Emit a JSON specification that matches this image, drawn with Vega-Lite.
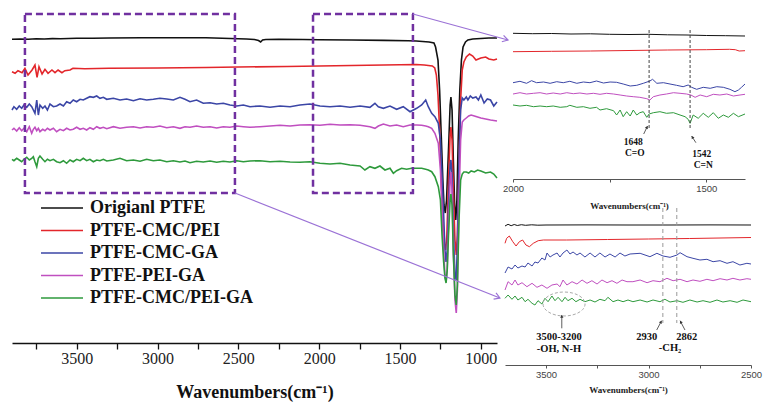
{
"$schema":"https://vega.github.io/schema/vega-lite/v6.json",
"width":763,"height":405,"autosize":"none","padding":0,"background":"white",
"config":{"view":{"stroke":null},"axis":{"grid":false}},
"datasets":{
"main":[
{"s":"a","w":3900,"v":310.7},{"s":"a","w":3850,"v":311},{"s":"a","w":3800,"v":310.8},{"s":"a","w":3750,"v":311.2},{"s":"a","w":3700,"v":311},{"s":"a","w":3650,"v":311.4},{"s":"a","w":3600,"v":311.3},{"s":"a","w":3500,"v":311.7},{"s":"a","w":3400,"v":311.8},{"s":"a","w":3300,"v":312},{"s":"a","w":3100,"v":312.2},{"s":"a","w":2900,"v":312.3},{"s":"a","w":2700,"v":312.3},{"s":"a","w":2550,"v":311.5},{"s":"a","w":2450,"v":311},{"s":"a","w":2400,"v":310.5},{"s":"a","w":2375,"v":309.5},{"s":"a","w":2362,"v":308},{"s":"a","w":2350,"v":310},{"s":"a","w":2330,"v":310.5},{"s":"a","w":2250,"v":310.7},{"s":"a","w":2100,"v":310.5},{"s":"a","w":2000,"v":310.3},{"s":"a","w":1800,"v":310},{"s":"a","w":1600,"v":309.6},{"s":"a","w":1450,"v":309.2},{"s":"a","w":1400,"v":309},{"s":"a","w":1320,"v":308},{"s":"a","w":1290,"v":307},{"s":"a","w":1280,"v":303},{"s":"a","w":1265,"v":290},{"s":"a","w":1255,"v":260},{"s":"a","w":1245,"v":215},{"s":"a","w":1235,"v":170},{"s":"a","w":1228,"v":145},{"s":"a","w":1220,"v":137},{"s":"a","w":1212,"v":150},{"s":"a","w":1200,"v":200},{"s":"a","w":1190,"v":245},{"s":"a","w":1185,"v":253},{"s":"a","w":1178,"v":240},{"s":"a","w":1170,"v":190},{"s":"a","w":1162,"v":145},{"s":"a","w":1155,"v":130},{"s":"a","w":1148,"v":150},{"s":"a","w":1140,"v":210},{"s":"a","w":1130,"v":260},{"s":"a","w":1120,"v":290},{"s":"a","w":1110,"v":303},{"s":"a","w":1095,"v":308},{"s":"a","w":1080,"v":310},{"s":"a","w":1050,"v":311},{"s":"a","w":1000,"v":311.5},{"s":"a","w":950,"v":312},{"s":"a","w":900,"v":312},
{"s":"b","w":3900,"v":278.3},{"s":"b","w":3881,"v":276.7},{"s":"b","w":3863,"v":279.3},{"s":"b","w":3838,"v":277.3},{"s":"b","w":3820,"v":281.7},{"s":"b","w":3801,"v":275},{"s":"b","w":3776,"v":280},{"s":"b","w":3758,"v":285},{"s":"b","w":3745,"v":272.7},{"s":"b","w":3733,"v":283.3},{"s":"b","w":3714,"v":276},{"s":"b","w":3696,"v":280.7},{"s":"b","w":3677,"v":276.7},{"s":"b","w":3653,"v":280},{"s":"b","w":3634,"v":277.3},{"s":"b","w":3615,"v":280},{"s":"b","w":3591,"v":277.3},{"s":"b","w":3573,"v":279.3},{"s":"b","w":3541,"v":280},{"s":"b","w":3523,"v":281.7},{"s":"b","w":3450,"v":281.3},{"s":"b","w":3300,"v":281.7},{"s":"b","w":3000,"v":282},{"s":"b","w":2700,"v":282.5},{"s":"b","w":2500,"v":283},{"s":"b","w":2200,"v":283.5},{"s":"b","w":2000,"v":284},{"s":"b","w":1800,"v":284.5},{"s":"b","w":1600,"v":285},{"s":"b","w":1400,"v":285.5},{"s":"b","w":1350,"v":285},{"s":"b","w":1300,"v":284},{"s":"b","w":1285,"v":282},{"s":"b","w":1275,"v":275},{"s":"b","w":1265,"v":255},{"s":"b","w":1255,"v":220},{"s":"b","w":1245,"v":170},{"s":"b","w":1235,"v":130},{"s":"b","w":1225,"v":105},{"s":"b","w":1218,"v":100},{"s":"b","w":1210,"v":115},{"s":"b","w":1200,"v":170},{"s":"b","w":1190,"v":215},{"s":"b","w":1185,"v":223},{"s":"b","w":1178,"v":210},{"s":"b","w":1170,"v":160},{"s":"b","w":1160,"v":110},{"s":"b","w":1152,"v":95},{"s":"b","w":1145,"v":115},{"s":"b","w":1135,"v":190},{"s":"b","w":1125,"v":250},{"s":"b","w":1115,"v":280},{"s":"b","w":1105,"v":288},{"s":"b","w":1090,"v":293},{"s":"b","w":1070,"v":296},{"s":"b","w":1050,"v":294},{"s":"b","w":1030,"v":290},{"s":"b","w":1000,"v":292},{"s":"b","w":970,"v":293},{"s":"b","w":950,"v":291},{"s":"b","w":920,"v":290},{"s":"b","w":900,"v":291},
{"s":"c","w":3900,"v":240},{"s":"c","w":3888,"v":243.3},{"s":"c","w":3871,"v":240.7},{"s":"c","w":3855,"v":244},{"s":"c","w":3840,"v":241.7},{"s":"c","w":3826,"v":245},{"s":"c","w":3809,"v":242.7},{"s":"c","w":3793,"v":246},{"s":"c","w":3778,"v":243.3},{"s":"c","w":3768,"v":240},{"s":"c","w":3758,"v":236.7},{"s":"c","w":3747,"v":250},{"s":"c","w":3737,"v":235},{"s":"c","w":3727,"v":245},{"s":"c","w":3710,"v":241.7},{"s":"c","w":3696,"v":244},{"s":"c","w":3681,"v":240},{"s":"c","w":3665,"v":246},{"s":"c","w":3644,"v":243.3},{"s":"c","w":3624,"v":244},{"s":"c","w":3603,"v":246},{"s":"c","w":3582,"v":244},{"s":"c","w":3562,"v":248.3},{"s":"c","w":3541,"v":246.7},{"s":"c","w":3521,"v":250},{"s":"c","w":3500,"v":248.3},{"s":"c","w":3479,"v":250.7},{"s":"c","w":3459,"v":250},{"s":"c","w":3438,"v":251.7},{"s":"c","w":3418,"v":253.3},{"s":"c","w":3397,"v":252.7},{"s":"c","w":3376,"v":254},{"s":"c","w":3356,"v":251.7},{"s":"c","w":3335,"v":252.7},{"s":"c","w":3314,"v":250.7},{"s":"c","w":3273,"v":251.7},{"s":"c","w":3232,"v":250},{"s":"c","w":3191,"v":251},{"s":"c","w":3149,"v":249.3},{"s":"c","w":3108,"v":251.3},{"s":"c","w":3067,"v":250},{"s":"c","w":3026,"v":250.7},{"s":"c","w":2985,"v":251.7},{"s":"c","w":2943,"v":251},{"s":"c","w":2902,"v":250},{"s":"c","w":2861,"v":252.7},{"s":"c","w":2830,"v":250.7},{"s":"c","w":2799,"v":248.3},{"s":"c","w":2758,"v":250},{"s":"c","w":2717,"v":246.7},{"s":"c","w":2675,"v":247.3},{"s":"c","w":2634,"v":246},{"s":"c","w":2593,"v":246.7},{"s":"c","w":2552,"v":245},{"s":"c","w":2510,"v":244},{"s":"c","w":2469,"v":245},{"s":"c","w":2428,"v":243.3},{"s":"c","w":2366,"v":244},{"s":"c","w":2304,"v":242.7},{"s":"c","w":2242,"v":244},{"s":"c","w":2180,"v":243.3},{"s":"c","w":2119,"v":245},{"s":"c","w":2057,"v":246},{"s":"c","w":1995,"v":244},{"s":"c","w":1933,"v":243.3},{"s":"c","w":1871,"v":244},{"s":"c","w":1809,"v":242.7},{"s":"c","w":1747,"v":244},{"s":"c","w":1686,"v":242.7},{"s":"c","w":1655,"v":246.7},{"s":"c","w":1634,"v":243.3},{"s":"c","w":1603,"v":241.7},{"s":"c","w":1562,"v":244},{"s":"c","w":1521,"v":240.7},{"s":"c","w":1480,"v":243.3},{"s":"c","w":1438,"v":238.3},{"s":"c","w":1397,"v":241.7},{"s":"c","w":1366,"v":245},{"s":"c","w":1341,"v":250},{"s":"c","w":1325,"v":243.3},{"s":"c","w":1304,"v":236.7},{"s":"c","w":1284,"v":233.3},{"s":"c","w":1263,"v":226.7},{"s":"c","w":1250,"v":210},{"s":"c","w":1240,"v":175},{"s":"c","w":1230,"v":135},{"s":"c","w":1222,"v":100},{"s":"c","w":1215,"v":88},{"s":"c","w":1208,"v":100},{"s":"c","w":1200,"v":145},{"s":"c","w":1190,"v":185},{"s":"c","w":1185,"v":190},{"s":"c","w":1178,"v":175},{"s":"c","w":1170,"v":120},{"s":"c","w":1160,"v":75},{"s":"c","w":1152,"v":70},{"s":"c","w":1145,"v":105},{"s":"c","w":1135,"v":190},{"s":"c","w":1125,"v":240},{"s":"c","w":1115,"v":252},{"s":"c","w":1105,"v":250},{"s":"c","w":1090,"v":253},{"s":"c","w":1080,"v":250},{"s":"c","w":1065,"v":254},{"s":"c","w":1050,"v":252},{"s":"c","w":1030,"v":253},{"s":"c","w":1015,"v":250},{"s":"c","w":1000,"v":255},{"s":"c","w":980,"v":247},{"s":"c","w":960,"v":251},{"s":"c","w":940,"v":250},{"s":"c","w":920,"v":244},{"s":"c","w":900,"v":248},
{"s":"d","w":3900,"v":220},{"s":"d","w":3888,"v":221.7},{"s":"d","w":3871,"v":219},{"s":"d","w":3855,"v":222.3},{"s":"d","w":3840,"v":219.3},{"s":"d","w":3826,"v":221.7},{"s":"d","w":3809,"v":218.3},{"s":"d","w":3793,"v":223.3},{"s":"d","w":3778,"v":216.7},{"s":"d","w":3768,"v":220.7},{"s":"d","w":3758,"v":222.7},{"s":"d","w":3747,"v":219.3},{"s":"d","w":3737,"v":221.7},{"s":"d","w":3727,"v":218.3},{"s":"d","w":3710,"v":220.7},{"s":"d","w":3696,"v":219.3},{"s":"d","w":3681,"v":221.7},{"s":"d","w":3665,"v":220},{"s":"d","w":3644,"v":221.7},{"s":"d","w":3624,"v":218.3},{"s":"d","w":3603,"v":220.7},{"s":"d","w":3582,"v":219.3},{"s":"d","w":3562,"v":221.7},{"s":"d","w":3541,"v":220},{"s":"d","w":3521,"v":220.7},{"s":"d","w":3500,"v":222.7},{"s":"d","w":3479,"v":220.7},{"s":"d","w":3459,"v":221.7},{"s":"d","w":3438,"v":220},{"s":"d","w":3418,"v":222.3},{"s":"d","w":3397,"v":220.7},{"s":"d","w":3376,"v":223.3},{"s":"d","w":3356,"v":221.7},{"s":"d","w":3335,"v":222.7},{"s":"d","w":3314,"v":221.3},{"s":"d","w":3273,"v":223.3},{"s":"d","w":3232,"v":221.7},{"s":"d","w":3191,"v":222.7},{"s":"d","w":3149,"v":223.3},{"s":"d","w":3108,"v":222},{"s":"d","w":3067,"v":223.3},{"s":"d","w":3026,"v":222.7},{"s":"d","w":2985,"v":224},{"s":"d","w":2943,"v":222.3},{"s":"d","w":2902,"v":223.3},{"s":"d","w":2861,"v":221.7},{"s":"d","w":2830,"v":223.3},{"s":"d","w":2799,"v":222.7},{"s":"d","w":2758,"v":224},{"s":"d","w":2717,"v":222.7},{"s":"d","w":2675,"v":223.3},{"s":"d","w":2634,"v":222},{"s":"d","w":2593,"v":223.3},{"s":"d","w":2552,"v":222.7},{"s":"d","w":2510,"v":224},{"s":"d","w":2469,"v":223.3},{"s":"d","w":2428,"v":222.7},{"s":"d","w":2366,"v":223.3},{"s":"d","w":2304,"v":224},{"s":"d","w":2242,"v":224.7},{"s":"d","w":2180,"v":224},{"s":"d","w":2119,"v":225},{"s":"d","w":2057,"v":225.3},{"s":"d","w":1995,"v":224.7},{"s":"d","w":1933,"v":225.7},{"s":"d","w":1871,"v":225},{"s":"d","w":1809,"v":225.3},{"s":"d","w":1747,"v":224.7},{"s":"d","w":1686,"v":223.3},{"s":"d","w":1655,"v":221.7},{"s":"d","w":1634,"v":224},{"s":"d","w":1603,"v":226},{"s":"d","w":1562,"v":224},{"s":"d","w":1521,"v":225},{"s":"d","w":1480,"v":223.3},{"s":"d","w":1438,"v":225},{"s":"d","w":1397,"v":225},{"s":"d","w":1366,"v":224.7},{"s":"d","w":1341,"v":224},{"s":"d","w":1325,"v":223.3},{"s":"d","w":1304,"v":221.7},{"s":"d","w":1284,"v":216.7},{"s":"d","w":1263,"v":206.7},{"s":"d","w":1250,"v":180},{"s":"d","w":1240,"v":140},{"s":"d","w":1230,"v":100},{"s":"d","w":1222,"v":75},{"s":"d","w":1215,"v":68},{"s":"d","w":1208,"v":80},{"s":"d","w":1200,"v":125},{"s":"d","w":1190,"v":170},{"s":"d","w":1185,"v":178},{"s":"d","w":1178,"v":160},{"s":"d","w":1170,"v":100},{"s":"d","w":1160,"v":50},{"s":"d","w":1152,"v":37},{"s":"d","w":1145,"v":60},{"s":"d","w":1135,"v":150},{"s":"d","w":1125,"v":210},{"s":"d","w":1115,"v":228},{"s":"d","w":1105,"v":230},{"s":"d","w":1090,"v":232},{"s":"d","w":1075,"v":234},{"s":"d","w":1060,"v":235},{"s":"d","w":1040,"v":234},{"s":"d","w":1020,"v":233},{"s":"d","w":1000,"v":232},{"s":"d","w":970,"v":231},{"s":"d","w":940,"v":230},{"s":"d","w":900,"v":229},
{"s":"e","w":3900,"v":190.7},{"s":"e","w":3888,"v":189.3},{"s":"e","w":3871,"v":191.7},{"s":"e","w":3855,"v":190},{"s":"e","w":3840,"v":188.3},{"s":"e","w":3826,"v":190.7},{"s":"e","w":3809,"v":192.7},{"s":"e","w":3793,"v":190},{"s":"e","w":3778,"v":191.7},{"s":"e","w":3768,"v":193.3},{"s":"e","w":3758,"v":188.3},{"s":"e","w":3747,"v":183.3},{"s":"e","w":3737,"v":191.7},{"s":"e","w":3727,"v":194},{"s":"e","w":3710,"v":190.7},{"s":"e","w":3696,"v":188.3},{"s":"e","w":3681,"v":190.7},{"s":"e","w":3665,"v":189.3},{"s":"e","w":3644,"v":190.7},{"s":"e","w":3624,"v":188.3},{"s":"e","w":3603,"v":187.3},{"s":"e","w":3582,"v":189.3},{"s":"e","w":3562,"v":186.7},{"s":"e","w":3541,"v":190},{"s":"e","w":3521,"v":188.3},{"s":"e","w":3500,"v":190.7},{"s":"e","w":3479,"v":189.3},{"s":"e","w":3459,"v":191.7},{"s":"e","w":3438,"v":189.3},{"s":"e","w":3418,"v":190.7},{"s":"e","w":3397,"v":188.3},{"s":"e","w":3376,"v":190},{"s":"e","w":3356,"v":189.3},{"s":"e","w":3335,"v":190.7},{"s":"e","w":3314,"v":189},{"s":"e","w":3273,"v":190},{"s":"e","w":3232,"v":191.7},{"s":"e","w":3191,"v":189.3},{"s":"e","w":3149,"v":190},{"s":"e","w":3108,"v":188.7},{"s":"e","w":3067,"v":190.7},{"s":"e","w":3026,"v":189.3},{"s":"e","w":2985,"v":190},{"s":"e","w":2943,"v":188.3},{"s":"e","w":2902,"v":189.3},{"s":"e","w":2861,"v":188},{"s":"e","w":2830,"v":189},{"s":"e","w":2799,"v":187.3},{"s":"e","w":2758,"v":188.7},{"s":"e","w":2717,"v":188},{"s":"e","w":2675,"v":189},{"s":"e","w":2634,"v":187.7},{"s":"e","w":2593,"v":188.7},{"s":"e","w":2552,"v":188},{"s":"e","w":2510,"v":189.3},{"s":"e","w":2469,"v":188.3},{"s":"e","w":2428,"v":189},{"s":"e","w":2366,"v":189.3},{"s":"e","w":2304,"v":188.3},{"s":"e","w":2242,"v":188.7},{"s":"e","w":2180,"v":188},{"s":"e","w":2119,"v":187.7},{"s":"e","w":2057,"v":188.3},{"s":"e","w":1995,"v":186.7},{"s":"e","w":1933,"v":186},{"s":"e","w":1871,"v":186.7},{"s":"e","w":1809,"v":185},{"s":"e","w":1747,"v":184},{"s":"e","w":1717,"v":180},{"s":"e","w":1686,"v":183.3},{"s":"e","w":1655,"v":181.7},{"s":"e","w":1624,"v":184},{"s":"e","w":1593,"v":180},{"s":"e","w":1562,"v":181.7},{"s":"e","w":1541,"v":176.7},{"s":"e","w":1521,"v":179.3},{"s":"e","w":1490,"v":181.7},{"s":"e","w":1459,"v":180.7},{"s":"e","w":1428,"v":181.7},{"s":"e","w":1397,"v":181.7},{"s":"e","w":1366,"v":181.7},{"s":"e","w":1341,"v":180.7},{"s":"e","w":1325,"v":180},{"s":"e","w":1304,"v":178.3},{"s":"e","w":1284,"v":173.3},{"s":"e","w":1263,"v":163.3},{"s":"e","w":1250,"v":150},{"s":"e","w":1240,"v":115},{"s":"e","w":1230,"v":88},{"s":"e","w":1222,"v":72},{"s":"e","w":1215,"v":67},{"s":"e","w":1208,"v":80},{"s":"e","w":1200,"v":115},{"s":"e","w":1190,"v":150},{"s":"e","w":1185,"v":156},{"s":"e","w":1178,"v":145},{"s":"e","w":1170,"v":95},{"s":"e","w":1160,"v":55},{"s":"e","w":1152,"v":45},{"s":"e","w":1145,"v":65},{"s":"e","w":1135,"v":130},{"s":"e","w":1125,"v":170},{"s":"e","w":1115,"v":176},{"s":"e","w":1105,"v":178},{"s":"e","w":1090,"v":178},{"s":"e","w":1075,"v":177},{"s":"e","w":1060,"v":179},{"s":"e","w":1040,"v":178},{"s":"e","w":1020,"v":180},{"s":"e","w":1000,"v":179},{"s":"e","w":970,"v":177},{"s":"e","w":940,"v":178},{"s":"e","w":920,"v":176},{"s":"e","w":900,"v":172}
],
"boxes":[{"w":3820,"w2":2521,"v":336,"v2":157},{"w":2038,"w2":1420,"v":336,"v2":157}],
"arrows":[{"w":1420,"v":336,"w2":832,"v2":310},{"w":2521,"v":157,"w2":882,"v2":52}],
"heads":[{"w":832,"v":310,"a":15.3},{"w":882,"v":52,"a":21.6}],
"top":[
{"s":"a","w":2000,"v":146.7},{"s":"a","w":1950,"v":146.3},{"s":"a","w":1900,"v":146.5},{"s":"a","w":1850,"v":146},{"s":"a","w":1800,"v":146.2},{"s":"a","w":1750,"v":145.7},{"s":"a","w":1700,"v":145.5},{"s":"a","w":1650,"v":145.7},{"s":"a","w":1600,"v":145.2},{"s":"a","w":1550,"v":145},{"s":"a","w":1500,"v":144.5},{"s":"a","w":1450,"v":144.3},{"s":"a","w":1400,"v":144},
{"s":"b","w":2000,"v":128.3},{"s":"b","w":1900,"v":128.7},{"s":"b","w":1800,"v":129},{"s":"b","w":1700,"v":129.5},{"s":"b","w":1600,"v":130},{"s":"b","w":1500,"v":130.3},{"s":"b","w":1440,"v":130.7},{"s":"b","w":1425,"v":130.3},{"s":"b","w":1415,"v":129},{"s":"b","w":1400,"v":129.3},
{"s":"c","w":2000,"v":97.3},{"s":"c","w":1982,"v":98.7},{"s":"c","w":1965,"v":96.7},{"s":"c","w":1952,"v":99.3},{"s":"c","w":1939,"v":97.3},{"s":"c","w":1921,"v":98},{"s":"c","w":1904,"v":96.7},{"s":"c","w":1887,"v":98.3},{"s":"c","w":1870,"v":97.3},{"s":"c","w":1853,"v":98.7},{"s":"c","w":1835,"v":96.7},{"s":"c","w":1818,"v":98},{"s":"c","w":1801,"v":97.3},{"s":"c","w":1784,"v":99},{"s":"c","w":1766,"v":97},{"s":"c","w":1749,"v":98},{"s":"c","w":1732,"v":97.7},{"s":"c","w":1715,"v":96},{"s":"c","w":1697,"v":94},{"s":"c","w":1680,"v":94.7},{"s":"c","w":1663,"v":96.7},{"s":"c","w":1646,"v":99},{"s":"c","w":1639,"v":100.7},{"s":"c","w":1628,"v":96.7},{"s":"c","w":1611,"v":97.3},{"s":"c","w":1594,"v":96},{"s":"c","w":1577,"v":94.7},{"s":"c","w":1560,"v":93.3},{"s":"c","w":1547,"v":95},{"s":"c","w":1538,"v":92.7},{"s":"c","w":1525,"v":90.7},{"s":"c","w":1508,"v":92.7},{"s":"c","w":1490,"v":91.7},{"s":"c","w":1473,"v":93.3},{"s":"c","w":1456,"v":92.7},{"s":"c","w":1439,"v":90.7},{"s":"c","w":1426,"v":88.3},{"s":"c","w":1417,"v":90},{"s":"c","w":1409,"v":92.7},{"s":"c","w":1400,"v":96},
{"s":"d","w":2000,"v":86},{"s":"d","w":1982,"v":87.3},{"s":"d","w":1965,"v":86},{"s":"d","w":1947,"v":86.7},{"s":"d","w":1930,"v":87.3},{"s":"d","w":1913,"v":86},{"s":"d","w":1896,"v":87},{"s":"d","w":1878,"v":86},{"s":"d","w":1861,"v":87.3},{"s":"d","w":1844,"v":86.3},{"s":"d","w":1827,"v":87},{"s":"d","w":1809,"v":86},{"s":"d","w":1792,"v":86.7},{"s":"d","w":1775,"v":85.7},{"s":"d","w":1758,"v":86.7},{"s":"d","w":1740,"v":86},{"s":"d","w":1723,"v":85},{"s":"d","w":1706,"v":84},{"s":"d","w":1689,"v":83.3},{"s":"d","w":1672,"v":82.7},{"s":"d","w":1654,"v":81.3},{"s":"d","w":1646,"v":80},{"s":"d","w":1637,"v":83.3},{"s":"d","w":1620,"v":85},{"s":"d","w":1603,"v":86},{"s":"d","w":1585,"v":87.3},{"s":"d","w":1568,"v":86.7},{"s":"d","w":1551,"v":86},{"s":"d","w":1540,"v":85},{"s":"d","w":1529,"v":82.7},{"s":"d","w":1516,"v":85},{"s":"d","w":1499,"v":83.3},{"s":"d","w":1482,"v":85.7},{"s":"d","w":1465,"v":85},{"s":"d","w":1447,"v":86},{"s":"d","w":1430,"v":84},{"s":"d","w":1413,"v":85},{"s":"d","w":1400,"v":85.7},
{"s":"e","w":2000,"v":75},{"s":"e","w":1982,"v":74},{"s":"e","w":1965,"v":74.7},{"s":"e","w":1947,"v":73.3},{"s":"e","w":1930,"v":74},{"s":"e","w":1913,"v":73.3},{"s":"e","w":1896,"v":74},{"s":"e","w":1878,"v":72.7},{"s":"e","w":1861,"v":73.3},{"s":"e","w":1853,"v":74.7},{"s":"e","w":1835,"v":72.7},{"s":"e","w":1818,"v":73.3},{"s":"e","w":1801,"v":71.7},{"s":"e","w":1784,"v":72.7},{"s":"e","w":1775,"v":70},{"s":"e","w":1758,"v":71.3},{"s":"e","w":1740,"v":69.3},{"s":"e","w":1732,"v":65},{"s":"e","w":1723,"v":70},{"s":"e","w":1715,"v":63.3},{"s":"e","w":1706,"v":68.3},{"s":"e","w":1697,"v":64},{"s":"e","w":1689,"v":70},{"s":"e","w":1680,"v":65},{"s":"e","w":1672,"v":67.3},{"s":"e","w":1663,"v":68.3},{"s":"e","w":1654,"v":62.7},{"s":"e","w":1648,"v":66},{"s":"e","w":1637,"v":67.3},{"s":"e","w":1620,"v":68.3},{"s":"e","w":1603,"v":66.7},{"s":"e","w":1585,"v":67.3},{"s":"e","w":1568,"v":65},{"s":"e","w":1555,"v":63.3},{"s":"e","w":1547,"v":60.7},{"s":"e","w":1542,"v":56.7},{"s":"e","w":1534,"v":65},{"s":"e","w":1521,"v":61.7},{"s":"e","w":1508,"v":66.7},{"s":"e","w":1495,"v":62.7},{"s":"e","w":1482,"v":67.3},{"s":"e","w":1469,"v":61.7},{"s":"e","w":1456,"v":65},{"s":"e","w":1443,"v":62.7},{"s":"e","w":1430,"v":66.7},{"s":"e","w":1417,"v":63.3},{"s":"e","w":1400,"v":66}
],
"topdash":[{"w":1648,"v":150,"v2":50},{"w":1542,"v":150,"v2":50}],
"toptext":[{"w":1689,"v":38.3,"t":"1648"},{"w":1685,"v":27,"t":"C=O"},{"w":1512,"v":26,"t":"1542"},{"w":1508,"v":15.5,"t":"C=N"}],
"toparrows":[{"w":1662,"v":46,"w2":1652,"v2":54},{"w":1527,"v":37.3,"w2":1538,"v2":44}],
"topheads":[{"w":1652,"v":54,"a":-64},{"w":1538,"v":44,"a":-123}],
"bot":[
{"s":"a","w":3700,"v":140},{"s":"a","w":3685,"v":141.7},{"s":"a","w":3670,"v":140.3},{"s":"a","w":3655,"v":141.5},{"s":"a","w":3640,"v":140.5},{"s":"a","w":3620,"v":141.3},{"s":"a","w":3600,"v":140.7},{"s":"a","w":3570,"v":141.2},{"s":"a","w":3540,"v":140.8},{"s":"a","w":3500,"v":141},{"s":"a","w":3300,"v":141.1},{"s":"a","w":3100,"v":141},{"s":"a","w":2900,"v":141},{"s":"a","w":2700,"v":141.1},{"s":"a","w":2500,"v":141},
{"s":"b","w":3700,"v":122.7},{"s":"b","w":3692,"v":127.7},{"s":"b","w":3679,"v":130},{"s":"b","w":3662,"v":124.3},{"s":"b","w":3646,"v":120},{"s":"b","w":3630,"v":124.3},{"s":"b","w":3614,"v":126},{"s":"b","w":3598,"v":121},{"s":"b","w":3581,"v":119.3},{"s":"b","w":3562,"v":122.7},{"s":"b","w":3538,"v":125.3},{"s":"b","w":3513,"v":126},{"s":"b","w":3400,"v":126},{"s":"b","w":3200,"v":126.5},{"s":"b","w":3000,"v":127},{"s":"b","w":2800,"v":127.5},{"s":"b","w":2500,"v":128.5},
{"s":"c","w":3700,"v":93},{"s":"c","w":3685,"v":99},{"s":"c","w":3666,"v":97},{"s":"c","w":3651,"v":101},{"s":"c","w":3637,"v":98},{"s":"c","w":3617,"v":100},{"s":"c","w":3602,"v":99},{"s":"c","w":3588,"v":103},{"s":"c","w":3568,"v":100},{"s":"c","w":3554,"v":104},{"s":"c","w":3539,"v":103},{"s":"c","w":3520,"v":108},{"s":"c","w":3505,"v":106},{"s":"c","w":3495,"v":113},{"s":"c","w":3480,"v":109},{"s":"c","w":3466,"v":111},{"s":"c","w":3446,"v":113},{"s":"c","w":3432,"v":109},{"s":"c","w":3417,"v":113},{"s":"c","w":3398,"v":116},{"s":"c","w":3383,"v":112},{"s":"c","w":3368,"v":114},{"s":"c","w":3349,"v":111},{"s":"c","w":3334,"v":113},{"s":"c","w":3310,"v":109},{"s":"c","w":3285,"v":113},{"s":"c","w":3261,"v":109},{"s":"c","w":3237,"v":113},{"s":"c","w":3212,"v":109},{"s":"c","w":3188,"v":112},{"s":"c","w":3163,"v":109},{"s":"c","w":3139,"v":113},{"s":"c","w":3115,"v":110},{"s":"c","w":3090,"v":112},{"s":"c","w":3041,"v":112.7},{"s":"c","w":2993,"v":109.3},{"s":"c","w":2959,"v":112.7},{"s":"c","w":2929,"v":110},{"s":"c","w":2895,"v":108.7},{"s":"c","w":2861,"v":111},{"s":"c","w":2846,"v":113.3},{"s":"c","w":2812,"v":109.3},{"s":"c","w":2783,"v":107.7},{"s":"c","w":2749,"v":106},{"s":"c","w":2715,"v":106.7},{"s":"c","w":2685,"v":104.3},{"s":"c","w":2651,"v":105.3},{"s":"c","w":2617,"v":102.7},{"s":"c","w":2588,"v":104.3},{"s":"c","w":2554,"v":101},{"s":"c","w":2520,"v":102.7},{"s":"c","w":2500,"v":102},
{"s":"d","w":3700,"v":76},{"s":"d","w":3685,"v":84.3},{"s":"d","w":3666,"v":81},{"s":"d","w":3651,"v":86},{"s":"d","w":3637,"v":81},{"s":"d","w":3617,"v":83.3},{"s":"d","w":3593,"v":79.3},{"s":"d","w":3568,"v":82.7},{"s":"d","w":3544,"v":78.7},{"s":"d","w":3520,"v":81},{"s":"d","w":3495,"v":77.7},{"s":"d","w":3471,"v":81},{"s":"d","w":3446,"v":82},{"s":"d","w":3432,"v":79.3},{"s":"d","w":3417,"v":86},{"s":"d","w":3398,"v":81},{"s":"d","w":3373,"v":84.3},{"s":"d","w":3349,"v":82},{"s":"d","w":3324,"v":86},{"s":"d","w":3300,"v":82.7},{"s":"d","w":3276,"v":85.3},{"s":"d","w":3251,"v":82},{"s":"d","w":3227,"v":86},{"s":"d","w":3202,"v":83.3},{"s":"d","w":3178,"v":85.3},{"s":"d","w":3154,"v":82.7},{"s":"d","w":3129,"v":86},{"s":"d","w":3105,"v":84.3},{"s":"d","w":3076,"v":84.3},{"s":"d","w":3041,"v":86},{"s":"d","w":3007,"v":83.3},{"s":"d","w":2978,"v":85.3},{"s":"d","w":2944,"v":84.3},{"s":"d","w":2910,"v":87.7},{"s":"d","w":2880,"v":85.3},{"s":"d","w":2846,"v":86.7},{"s":"d","w":2812,"v":84.3},{"s":"d","w":2783,"v":86},{"s":"d","w":2749,"v":84.7},{"s":"d","w":2715,"v":86.7},{"s":"d","w":2685,"v":85.3},{"s":"d","w":2651,"v":87.3},{"s":"d","w":2617,"v":86},{"s":"d","w":2588,"v":87.7},{"s":"d","w":2554,"v":86},{"s":"d","w":2520,"v":87.3},{"s":"d","w":2500,"v":86.7},
{"s":"e","w":3700,"v":67.7},{"s":"e","w":3685,"v":71},{"s":"e","w":3666,"v":66.7},{"s":"e","w":3651,"v":70},{"s":"e","w":3637,"v":66},{"s":"e","w":3617,"v":68.7},{"s":"e","w":3602,"v":64.3},{"s":"e","w":3588,"v":66.7},{"s":"e","w":3568,"v":62.7},{"s":"e","w":3554,"v":61},{"s":"e","w":3539,"v":65.3},{"s":"e","w":3520,"v":62},{"s":"e","w":3505,"v":67.7},{"s":"e","w":3490,"v":64.3},{"s":"e","w":3471,"v":70},{"s":"e","w":3456,"v":65.3},{"s":"e","w":3441,"v":68.7},{"s":"e","w":3422,"v":64.3},{"s":"e","w":3407,"v":68.7},{"s":"e","w":3393,"v":65.3},{"s":"e","w":3373,"v":67.7},{"s":"e","w":3354,"v":64.3},{"s":"e","w":3334,"v":66.7},{"s":"e","w":3310,"v":64.3},{"s":"e","w":3285,"v":66},{"s":"e","w":3261,"v":64},{"s":"e","w":3237,"v":66.7},{"s":"e","w":3212,"v":65.3},{"s":"e","w":3198,"v":68.7},{"s":"e","w":3173,"v":64.3},{"s":"e","w":3149,"v":66},{"s":"e","w":3124,"v":64.3},{"s":"e","w":3100,"v":66},{"s":"e","w":3076,"v":64.3},{"s":"e","w":3041,"v":66},{"s":"e","w":3007,"v":64},{"s":"e","w":2978,"v":66},{"s":"e","w":2944,"v":64.3},{"s":"e","w":2920,"v":66.7},{"s":"e","w":2895,"v":64},{"s":"e","w":2861,"v":65.3},{"s":"e","w":2832,"v":63.7},{"s":"e","w":2798,"v":66},{"s":"e","w":2763,"v":64},{"s":"e","w":2734,"v":65.3},{"s":"e","w":2700,"v":63.7},{"s":"e","w":2666,"v":66},{"s":"e","w":2637,"v":64},{"s":"e","w":2602,"v":65.3},{"s":"e","w":2568,"v":63.7},{"s":"e","w":2539,"v":66},{"s":"e","w":2500,"v":64.3}
],
"botdash":[{"w":2930,"v":158,"v2":43},{"w":2862,"v":158,"v2":43}],
"bottext":[{"w":3437,"v":29,"t":"3500-3200"},{"w":3437,"v":17.5,"t":"-OH, N-H"},{"w":3009,"v":29,"t":"2930"},{"w":2814,"v":29,"t":"2862"},{"w":2895,"v":18,"t":"-CH₂"}],
"botarrows":[{"w":3423,"v":37.7,"w2":3423,"v2":51},{"w":2960,"v":36,"w2":2936,"v2":45.3},{"w":2822,"v":36,"w2":2846,"v2":45.3}],
"botheads":[{"w":3423,"v":51,"a":-90},{"w":2936,"v":45.3,"a":-61.7},{"w":2846,"v":45.3,"a":-118.3}],
"ellipse":[{"w":3412,"v":62}]
},
"layer":[
{
"encoding":{
"x":{"field":"w","type":"quantitative","scale":{"domain":[3900,900],"range":[12,497],"nice":false,"zero":false},
"axis":{"orient":"bottom","offset":-62,"values":[3750,3500,3250,3000,2750,2500,2250,2000,1750,1500,1250,1000],"labelExpr":"datum.value % 500 == 0 ? datum.label : ''","format":"d","title":"Wavenumbers(cm⁻¹)","titleFont":"Liberation Serif","titleFontSize":18,"titleFontWeight":"bold","titleColor":"#111","titleY":49,"titleBaseline":"middle","labelFont":"Liberation Serif","labelFontSize":16,"labelColor":"#222","labelPadding":1,"tickSize":6,"tickWidth":1.3,"tickColor":"#111","domainColor":"#111","domainWidth":1.4,"labelFlush":false,"labelOverlap":false,"grid":false}},
"y":{"field":"v","type":"quantitative","scale":{"domain":[0,350],"range":[350,0],"nice":false,"zero":false},"axis":null}
},
"layer":[
{"data":{"name":"main"},"mark":{"type":"line","strokeWidth":1.6},
"encoding":{"color":{"field":"s","type":"nominal","scale":{"domain":["a","b","c","d","e"],"range":["#111111","#e3262b","#3b46a6","#c04fc0","#2e9a3c"]},
"legend":{"orient":"none","legendX":40,"legendY":199,"title":null,"symbolType":"stroke","symbolSize":1764,"symbolStrokeWidth":1.6,"clipHeight":18,"rowPadding":4.5,"labelOffset":6,"labelFont":"Liberation Serif","labelFontSize":18,"labelFontWeight":"bold","labelColor":"#111","labelLimit":400,"labelExpr":"datum.label == 'a' ? 'Origianl PTFE' : datum.label == 'b' ? 'PTFE-CMC/PEI' : datum.label == 'c' ? 'PTFE-CMC-GA' : datum.label == 'd' ? 'PTFE-PEI-GA' : 'PTFE-CMC/PEI-GA'"}}}},
{"data":{"name":"boxes"},"mark":{"type":"rect","filled":false,"color":"#7030a0","strokeWidth":2.5,"strokeDash":[7,4]},"encoding":{"x2":{"field":"w2"},"y2":{"field":"v2"}}},
{"data":{"name":"arrows"},"mark":{"type":"rule","color":"#9b72d6","strokeWidth":1.2},"encoding":{"x2":{"field":"w2"},"y2":{"field":"v2"}}},
{"data":{"name":"heads"},"mark":{"type":"point","shape":"M -1 -0.6 L 0 0 L -1 0.6","filled":false,"size":120,"color":"#9b72d6","strokeWidth":1.2,"opacity":1},"encoding":{"angle":{"field":"a","type":"quantitative","scale":null}}}
]
},
{
"encoding":{
"x":{"field":"w","type":"quantitative","scale":{"domain":[2000,1400],"range":[513,745],"nice":false,"zero":false},
"axis":{"orient":"bottom","offset":-226,"values":[2000,1750,1500],"labelExpr":"datum.value % 500 == 0 ? datum.label : ''","format":"d","title":"Wavenumbers(cm⁻¹)","titleFont":"Liberation Serif","titleFontSize":9,"titleFontWeight":"bold","titleColor":"#222","titleY":26,"titleBaseline":"middle","labelFont":"Liberation Sans","labelFontSize":9.5,"labelColor":"#444","labelPadding":1,"tickSize":3,"tickColor":"#555","domainColor":"#555","domainWidth":1,"labelFlush":false,"labelOverlap":false,"grid":false}},
"y":{"field":"v","type":"quantitative","scale":{"domain":[0,160],"range":[180,20],"nice":false,"zero":false},"axis":null}
},
"layer":[
{"data":{"name":"top"},"mark":{"type":"line","strokeWidth":1},
"encoding":{"color":{"field":"s","type":"nominal","scale":{"domain":["a","b","c","d","e"],"range":["#111111","#e3262b","#3b46a6","#c04fc0","#2e9a3c"]},
"legend":{"orient":"none","legendX":40,"legendY":199,"title":null,"symbolType":"stroke","symbolSize":1764,"symbolStrokeWidth":1.6,"clipHeight":18,"rowPadding":4.5,"labelOffset":6,"labelFont":"Liberation Serif","labelFontSize":18,"labelFontWeight":"bold","labelColor":"#111","labelLimit":400,"labelExpr":"datum.label == 'a' ? 'Origianl PTFE' : datum.label == 'b' ? 'PTFE-CMC/PEI' : datum.label == 'c' ? 'PTFE-CMC-GA' : datum.label == 'd' ? 'PTFE-PEI-GA' : 'PTFE-CMC/PEI-GA'"}}}},
{"data":{"name":"topdash"},"mark":{"type":"rule","color":"#444","strokeWidth":1,"strokeDash":[3,2]},"encoding":{"y2":{"field":"v2"}}},
{"data":{"name":"toptext"},"mark":{"type":"text","font":"Liberation Serif","fontWeight":"bold","fontSize":9.5,"color":"#111","align":"center","baseline":"middle"},"encoding":{"text":{"field":"t"}}},
{"data":{"name":"toparrows"},"mark":{"type":"rule","color":"#333","strokeWidth":0.8},"encoding":{"x2":{"field":"w2"},"y2":{"field":"v2"}}},
{"data":{"name":"topheads"},"mark":{"type":"point","shape":"M 0 0 L -1 -0.6 L -1 0.6 Z","filled":true,"size":30,"color":"#333","opacity":1},"encoding":{"angle":{"field":"a","type":"quantitative","scale":null}}}
]
},
{
"encoding":{
"x":{"field":"w","type":"quantitative","scale":{"domain":[3700,2500],"range":[505,751],"nice":false,"zero":false},
"axis":{"orient":"bottom","offset":-40,"values":[3500,3250,3000,2750,2500],"labelExpr":"datum.value % 500 == 0 ? datum.label : ''","format":"d","title":"Wavenumbers(cm⁻¹)","titleFont":"Liberation Serif","titleFontSize":9,"titleFontWeight":"bold","titleColor":"#222","titleY":24,"titleBaseline":"middle","labelFont":"Liberation Sans","labelFontSize":9.5,"labelColor":"#444","labelPadding":1,"tickSize":3,"tickColor":"#555","domainColor":"#555","domainWidth":1,"labelFlush":false,"labelOverlap":false,"grid":false}},
"y":{"field":"v","type":"quantitative","scale":{"domain":[0,160],"range":[366,206],"nice":false,"zero":false},"axis":null}
},
"layer":[
{"data":{"name":"bot"},"mark":{"type":"line","strokeWidth":1},
"encoding":{"color":{"field":"s","type":"nominal","scale":{"domain":["a","b","c","d","e"],"range":["#111111","#e3262b","#3b46a6","#c04fc0","#2e9a3c"]},
"legend":{"orient":"none","legendX":40,"legendY":199,"title":null,"symbolType":"stroke","symbolSize":1764,"symbolStrokeWidth":1.6,"clipHeight":18,"rowPadding":4.5,"labelOffset":6,"labelFont":"Liberation Serif","labelFontSize":18,"labelFontWeight":"bold","labelColor":"#111","labelLimit":400,"labelExpr":"datum.label == 'a' ? 'Origianl PTFE' : datum.label == 'b' ? 'PTFE-CMC/PEI' : datum.label == 'c' ? 'PTFE-CMC-GA' : datum.label == 'd' ? 'PTFE-PEI-GA' : 'PTFE-CMC/PEI-GA'"}}}},
{"data":{"name":"botdash"},"mark":{"type":"rule","color":"#999","strokeWidth":1,"strokeDash":[4,3]},"encoding":{"y2":{"field":"v2"}}},
{"data":{"name":"ellipse"},"mark":{"type":"point","shape":"M -1 0 A 1 0.57 0 1 0 1 0 A 1 0.57 0 1 0 -1 0 Z","filled":false,"size":1764,"color":"#aaa","strokeWidth":1,"strokeDash":[3,2],"opacity":1}},
{"data":{"name":"bottext"},"mark":{"type":"text","font":"Liberation Serif","fontWeight":"bold","fontSize":10.5,"color":"#111","align":"center","baseline":"middle"},"encoding":{"text":{"field":"t"}}},
{"data":{"name":"botarrows"},"mark":{"type":"rule","color":"#333","strokeWidth":0.8},"encoding":{"x2":{"field":"w2"},"y2":{"field":"v2"}}},
{"data":{"name":"botheads"},"mark":{"type":"point","shape":"M 0 0 L -1 -0.6 L -1 0.6 Z","filled":true,"size":30,"color":"#333","opacity":1},"encoding":{"angle":{"field":"a","type":"quantitative","scale":null}}}
]
}
],
"resolve":{"scale":{"x":"independent","y":"independent"},"axis":{"x":"independent","y":"independent"}}
}
